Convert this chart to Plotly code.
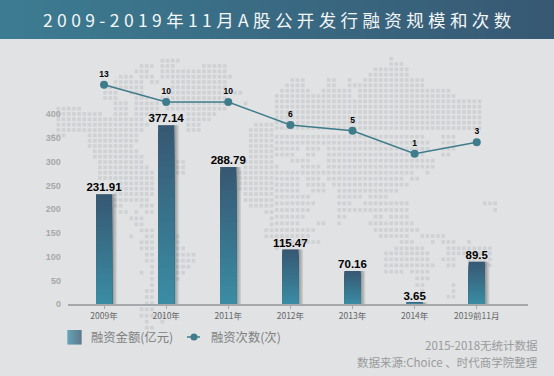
import plotly.graph_objects as go

categories = ["2009年", "2010年", "2011年", "2012年", "2013年", "2014年", "2019前11月"]
amounts = [231.91, 377.14, 288.79, 115.47, 70.16, 3.65, 89.5]
amount_labels = ["231.91", "377.14", "288.79", "115.47", "70.16", "3.65", "89.5"]
counts = [13, 10, 10, 6, 5, 1, 3]
y_ticks = [0, 50, 100, 150, 200, 250, 300, 350, 400]

TITLE = "2009-2019年11月A股公开发行融资规模和次数"
CJK = "Noto Sans CJK SC"
W, H = 554, 376

# decorative dotted world map: rows of (y, [column runs]) read in a 3x view of the picture
map_left = [
 (182,[(490,548)]),(198,[(428,470),(490,530),(615,675)]),(214,[(412,455),(490,675)]),
 (230,[(365,405),(428,470),(490,705)]),(246,[(350,390),(395,425),(460,485),(520,690)]),
 (262,[(318,390),(395,425),(520,690)]),(278,[(318,360),(395,440),(520,680),(712,730)]),
 (294,[(318,360),(412,450),(490,680)]),(310,[(350,390),(410,480),(505,680),(740,745)]),
 (326,[(175,250),(350,390),(410,480),(505,680)]),(342,[(175,315),(350,390),(410,475),(570,650)]),
 (358,[(175,440),(570,640)]),(374,[(175,450),(570,600),(770,830)]),(390,[(175,440),(570,600),(755,830)]),
 (406,[(160,200),(270,410),(755,830)]),(422,[(270,410),(755,830)]),(438,[(270,395),(755,830)]),
 (454,[(285,420),(755,830)]),(470,[(285,435),(755,830)]),(486,[(300,435),(525,550),(740,830)]),
 (502,[(300,450),(525,550),(740,830)]),(518,[(300,460),(525,550),(720,830)]),(534,[(300,470),(720,830)]),
 (550,[(360,470),(720,830)]),(566,[(360,470),(720,830)]),(582,[(350,470),(740,830)]),
 (600,[(340,450),(740,830)]),(617,[(340,375),(430,470),(755,830)]),(636,[(365,390),(410,420),(445,470),(800,830)]),
 (655,[(395,435),(815,830)]),(673,[(412,435),(815,830)]),(691,[(430,470),(800,830)]),
 (709,[(395,405),(445,470),(525,545),(800,830)]),(727,[(430,470),(525,545)]),(745,[(430,470),(525,560)]),
 (764,[(445,470),(525,595)]),(782,[(445,470),(525,595)]),(800,[(460,470),(525,580)]),
 (818,[(430,440),(460,470),(525,560)]),(837,[(460,470),(525,545)]),(855,[(460,470),(525,530)]),
 (873,[(445,470),(525,530)]),(891,[(445,470)]),(910,[(445,470)]),(928,[(430,470)]),
 (947,[(430,470),(490,500)]),(965,[(445,455),(490,500)]),(983,[(445,470)]),
]
map_right = [
 (176,[(350,358)]),(192,[(350,375)]),(208,[(300,390)]),(224,[(285,390)]),
 (240,[(45,90),(157,185),(222,232),(270,437)]),(256,[(30,90),(157,185),(222,437)]),
 (272,[(15,105),(140,230),(250,515)]),(288,[(0,230),(250,545)]),(304,[(0,610)]),(320,[(0,610)]),
 (336,[(0,610)]),(352,[(0,610)]),(368,[(0,610)]),(384,[(0,610)]),(410,[(0,450),(505,545)]),
 (428,[(0,465),(505,545)]),(446,[(0,75),(95,135),(155,465),(505,530)]),(464,[(0,55),(95,120),(155,450),(505,515)]),
 (482,[(45,105),(155,480)]),(500,[(0,10),(80,135),(155,480)]),(518,[(0,405),(445,465)]),
 (536,[(0,75),(95,135),(155,375),(410,435)]),(554,[(0,75),(95,150),(175,390)]),
 (572,[(0,75),(110,150),(190,370)]),(590,[(0,105),(190,250),(285,340)]),
 (610,[(0,120),(190,230),(270,350),(365,390),(630,670)]),(630,[(0,105),(190,250),(270,345),(365,390),(660,670)]),
 (650,[(0,90),(190,215),(300,320),(350,390)]),(670,[(0,75),(125,150),(190,200),(285,345),(365,405)]),
 (690,[(0,120),(300,435)]),(708,[(0,105),(315,390),(430,500)]),
 (726,[(0,135),(380,420),(460,470),(505,530),(570,580)]),(745,[(0,15),(365,450),(520,640)]),
 (760,[(330,465),(520,640)]),(778,[(330,465),(505,545),(575,640)]),(796,[(330,480),(520,545),(620,640)]),
 (815,[(330,375),(410,465)]),(835,[(425,465)]),(855,[(425,450),(535,545)]),(873,[(440,450),(535,545)]),
 (890,[(520,530)]),
]

PITCH, X0 = 15.6, 175
mx, my = [], []
for rows, off in ((map_left, 0), (map_right, 831)):
    for yy, runs in rows:
        for a, b in runs:
            a, b = a + off, b + off
            i0 = round((a - X0) / PITCH)
            i1 = max(i0, round((b - 8 - X0) / PITCH))
            for i in range(i0, i1 + 1):
                mx.append((X0 + i * PITCH) / 3)
                my.append(yy / 3)


def lerp(c1, c2, t):
    return "rgb(%d,%d,%d)" % tuple(round(a + (b - a) * t) for a, b in zip(c1, c2))


DARK, TEAL = (55, 88, 115), (58, 142, 165)
shapes = []
# title band gradient
for i in range(0, W, 6):
    shapes.append(dict(type="rect", xref="paper", yref="paper", layer="below",
                       x0=i / W, x1=(i + 6) / W, y0=1 - 39 / H, y1=1, line_width=0,
                       fillcolor=lerp((60, 124, 146), DARK, i / W)))
# bar legend swatch gradient
for i in range(14):
    shapes.append(dict(type="rect", xref="paper", yref="paper",
                       x0=(67.5 + i) / W, x1=(68.5 + i) / W, y0=1 - 344.5 / H, y1=1 - 330 / H,
                       line_width=0, fillcolor=lerp(TEAL, DARK, i / 13)))
# line legend key
shapes.append(dict(type="line", xref="paper", yref="paper", x0=187 / W, x1=200 / W,
                   y0=1 - 337 / H, y1=1 - 337 / H, line=dict(color="#3f7c8b", width=1.5)))
shapes.append(dict(type="circle", xref="paper", yref="paper", x0=190.5 / W, x1=197.5 / W,
                   y0=1 - 340.5 / H, y1=1 - 333.5 / H, line_width=0, fillcolor="#3f7c8b"))

fig = go.Figure()
# map layer on a full-canvas hidden subplot
fig.add_trace(go.Scatter(x=mx, y=my, mode="markers", xaxis="x", yaxis="y", hoverinfo="skip",
                         marker=dict(symbol="square", size=3.6, color="#cfd1d3", line_width=0)))

BW = 0.258
for k, extra in enumerate((0.075, 0.055, 0.035, 0.018)):
    fig.add_trace(go.Bar(x=categories, y=[v + 1 for v in amounts], width=BW + extra, offset=-BW / 2,
                         xaxis="x2", yaxis="y2", hoverinfo="skip", base=-1,
                         marker=dict(color="rgba(70,70,70,0.14)", line_width=0)))
N = 30
for k in range(N, 0, -1):
    frac = k / N
    fig.add_trace(go.Bar(x=categories, y=[v * frac for v in amounts], width=BW,
                         xaxis="x2", yaxis="y2", hoverinfo="skip",
                         marker=dict(color=lerp(TEAL, DARK, frac), line_width=0)))
fig.add_trace(go.Scatter(x=categories, y=amounts, text=amount_labels, mode="text",
                         textposition="top center", xaxis="x2", yaxis="y2", hoverinfo="skip", cliponaxis=False,
                         textfont=dict(family="Liberation Sans", size=11.5, color="#000000", weight="bold")))

fig.add_trace(go.Scatter(x=categories, y=counts, text=[str(c) for c in counts], mode="lines+markers+text",
                         textposition="top center", xaxis="x3", yaxis="y3", cliponaxis=False,
                         line=dict(color="#3f7c8b", width=1.5),
                         marker=dict(color="#3f7c8b", size=8),
                         textfont=dict(family="Liberation Sans", size=8.5, color="#000000", weight="bold")))

AL, AR, AB, AT = 67.7, 527.7, 304.3, 60
dom_x = [AL / W, AR / W]
dom_y = [1 - AB / H, 1 - AT / H]
xr = [-0.585, 6.82]
annotations = [
    dict(text="\u2005".join(TITLE), x=277 / W, y=1 - 19.5 / H, font=dict(family=CJK, size=17.5, color="#f4f6f7")),
    dict(text="融资金额(亿元)", x=89 / W, y=1 - 337 / H, xanchor="left", font=dict(family=CJK, size=12.3, color="#7f7f7f")),
    dict(text="融资次数(次)", x=208.5 / W, y=1 - 337 / H, xanchor="left", font=dict(family=CJK, size=12.3, color="#7f7f7f")),
    dict(text="2015-2018无统计数据", x=540 / W, y=1 - 345 / H, xanchor="right", font=dict(family=CJK, size=11.5, color="#9a9a9a")),
    dict(text="数据来源:Choice 、时代商学院整理", x=540 / W, y=1 - 361.5 / H, xanchor="right", font=dict(family=CJK, size=11.5, color="#9a9a9a")),
]
for a in annotations:
    a.update(xref="paper", yref="paper", showarrow=False)
    a.setdefault("xanchor", "center")
    a["yanchor"] = "middle"

fig.update_layout(
    width=W, height=H, margin=dict(l=0, r=0, t=0, b=0, pad=0), showlegend=False, barmode="overlay",
    paper_bgcolor="#e0e2e4", plot_bgcolor="rgba(0,0,0,0)", shapes=shapes, annotations=annotations,
    xaxis=dict(domain=[0, 1], range=[0, W], visible=False, fixedrange=True, automargin=False),
    yaxis=dict(domain=[0, 1], range=[H, 0], visible=False, fixedrange=True, automargin=False),
    xaxis2=dict(domain=dom_x, anchor="y2", type="category", range=xr, showgrid=False, zeroline=False, automargin=False,
                showline=True, linecolor="#a6a9ac", linewidth=1.5, ticks="outside", ticklen=3,
                tickcolor="#a6a9ac", tickfont=dict(family=CJK, size=8.5, color="#666666")),
    yaxis2=dict(domain=dom_y, anchor="x2", range=[0, (AB - AT) / 0.475], showgrid=False, zeroline=False, automargin=False,
                showline=False, tickvals=y_ticks, ticks="outside", ticklen=4, tickcolor="rgba(0,0,0,0)",
                tickfont=dict(family="Liberation Sans", size=9, color="#a8a8a8", weight="bold")),
    xaxis3=dict(domain=dom_x, anchor="y3", type="category", range=xr, visible=False, automargin=False),
    yaxis3=dict(domain=dom_y, anchor="x3", range=[(159.45 - AB) / 5.75, (159.45 - AT) / 5.75], visible=False, automargin=False),
)
fig.write_html("out.html", config={"displayModeBar": False},
               post_script="document.documentElement.style.background='#e0e2e4';document.body.style.margin='0';")
